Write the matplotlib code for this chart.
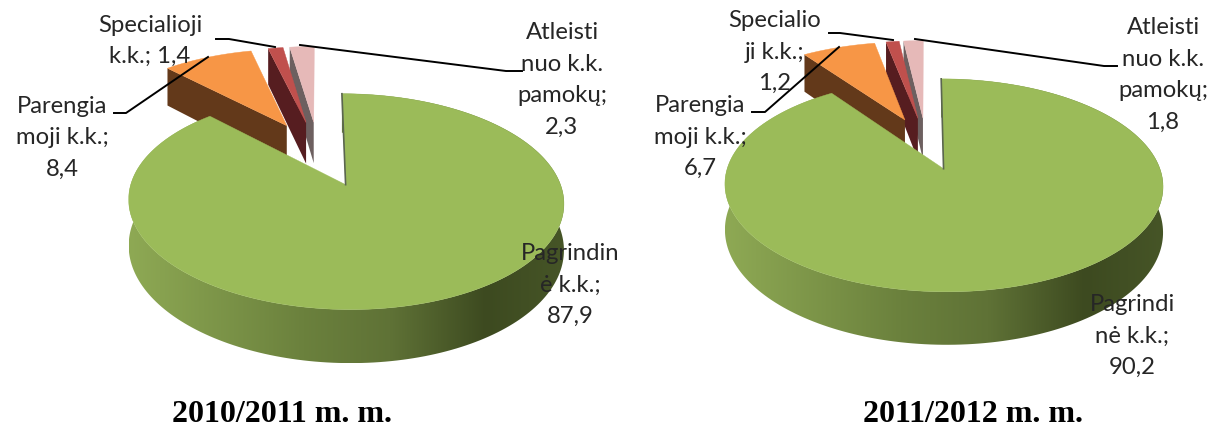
import numpy as np
import matplotlib
matplotlib.use('Agg')
import matplotlib.pyplot as plt
from matplotlib.colors import LinearSegmentedColormap
from matplotlib.patches import Polygon

# values in pie order, clockwise from 12 o'clock
values_2010 = [87.9, 8.4, 1.4, 2.3]
values_2011 = [90.2, 6.7, 1.2, 1.8]
labels_2010 = ['Pagrindin\nė k.k.;\n87,9', 'Parengia\nmoji k.k.;\n8,4', 'Specialioji\nk.k.; 1,4', 'Atleisti\nnuo k.k.\npamokų;\n2,3']
labels_2011 = ['Pagrindi\nnė k.k.;\n90,2', 'Parengia\nmoji k.k.;\n6,7', 'Specialio\nji k.k.;\n1,2', 'Atleisti\nnuo k.k.\npamokų;\n1,8']
title_2010 = '2010/2011 m. m.'
title_2011 = '2011/2012 m. m.'

top_colors = ['#9bbb59', '#f79646', '#c0504d', '#e6b9b8']
side_colors = [None, '#63391a', '#561d20', '#6d6060']
rim_ramp = LinearSegmentedColormap.from_list('rim', [(0, '#8ea954'), (0.4, '#6b813d'), (0.6, '#5f7236'), (0.82, '#3d4a20'), (1, '#465527')])


def project(x, y, g):
    s = 1 / (1 + g['p'] * y)
    return g['cx'] + g['a'] * x * s, g['cy'] - g['b'] * y * s, g['d'] * s


def draw_pie(ax, values, g):
    vals = np.array(values, dtype=float)
    edges = np.concatenate([[0], np.cumsum(vals) / vals.sum() * 2 * np.pi])
    # green goes last because it sits in front of the small slices
    for i in [3, 2, 1, 0]:
        t = np.linspace(edges[i], edges[i + 1], 240)
        mid = (edges[i] + edges[i + 1]) / 2
        ox, oy = g['e'] * np.sin(mid), g['e'] * np.cos(mid)
        x = np.concatenate([[ox], ox + np.sin(t), [ox]])
        y = np.concatenate([[oy], oy + np.cos(t), [oy]])
        px, py, dz = project(x, y, g)
        if side_colors[i] is not None:
            # only the cut face on the left can be seen
            ax.fill([px[0], px[1], px[1], px[0]],
                    [py[0], py[1], py[1] + dz[1], py[0] + dz[0]],
                    color=side_colors[i], lw=0)
        else:
            rim = np.c_[np.r_[px[1:-1], px[1:-1][::-1]], np.r_[py[1:-1], (py + dz)[1:-1][::-1]]]
            lo, hi = px.min(), px.max()
            im = ax.imshow(np.linspace(0, 1, 256)[None, :], cmap=rim_ramp, aspect='auto',
                           extent=[lo, hi, py.max() + dz.max(), py.min()])
            im.set_clip_path(Polygon(rim, transform=ax.transData))
        ax.fill(px, py, color=top_colors[i], lw=0.3)
        if i == 0:
            ax.plot(px[:2], py[:2], color='#5b6650', lw=1.2)


def draw_labels(ax, labels, spots):
    for lab, (x, y) in zip(labels, spots):
        ax.text(x, y, lab, ha='center', va='center', fontsize=17.2, color='#262626',
                family='Lato', linespacing=1.62, zorder=6)


geom_2010 = dict(cx=318.5, cy=153, a=204.7, b=95.5, p=0.15, d=43, e=0.34)
geom_2011 = dict(cx=926, cy=143, a=208, b=96, p=0.15, d=43, e=0.27)

spots_2010 = [(570, 285), (62, 138), (150, 41), (562, 80)]
spots_2011 = [(1132, 336), (700, 137), (775, 52), (1163, 75)]

leaders_2010 = [([216, 229, 275], [39, 39, 47]), ([522, 506, 300], [71, 71, 45]), ([114, 126, 208], [113, 113, 57])]
leaders_2011 = [([829, 840, 893], [33, 33, 40]), ([1117, 1104, 915], [66, 66, 39]), ([752, 765, 839], [112, 112, 47])]

fig = plt.figure(figsize=(12.24, 4.28), dpi=100)
ax = fig.add_axes([0, 0, 1, 1])

draw_pie(ax, values_2010, geom_2010)
draw_pie(ax, values_2011, geom_2011)

for lx, ly in leaders_2010 + leaders_2011:
    ax.plot(lx, ly, color='black', lw=1.4, zorder=5)

draw_labels(ax, labels_2010, spots_2010)
draw_labels(ax, labels_2011, spots_2011)

ax.text(282, 414, title_2010, ha='center', va='center', family='Liberation Serif', weight='bold', fontsize=23)
ax.text(973, 414, title_2011, ha='center', va='center', family='Liberation Serif', weight='bold', fontsize=23)

ax.set_xlim(0, 1224)
ax.set_ylim(428, 0)
ax.axis('off')

fig.savefig('out.png', dpi=100)
